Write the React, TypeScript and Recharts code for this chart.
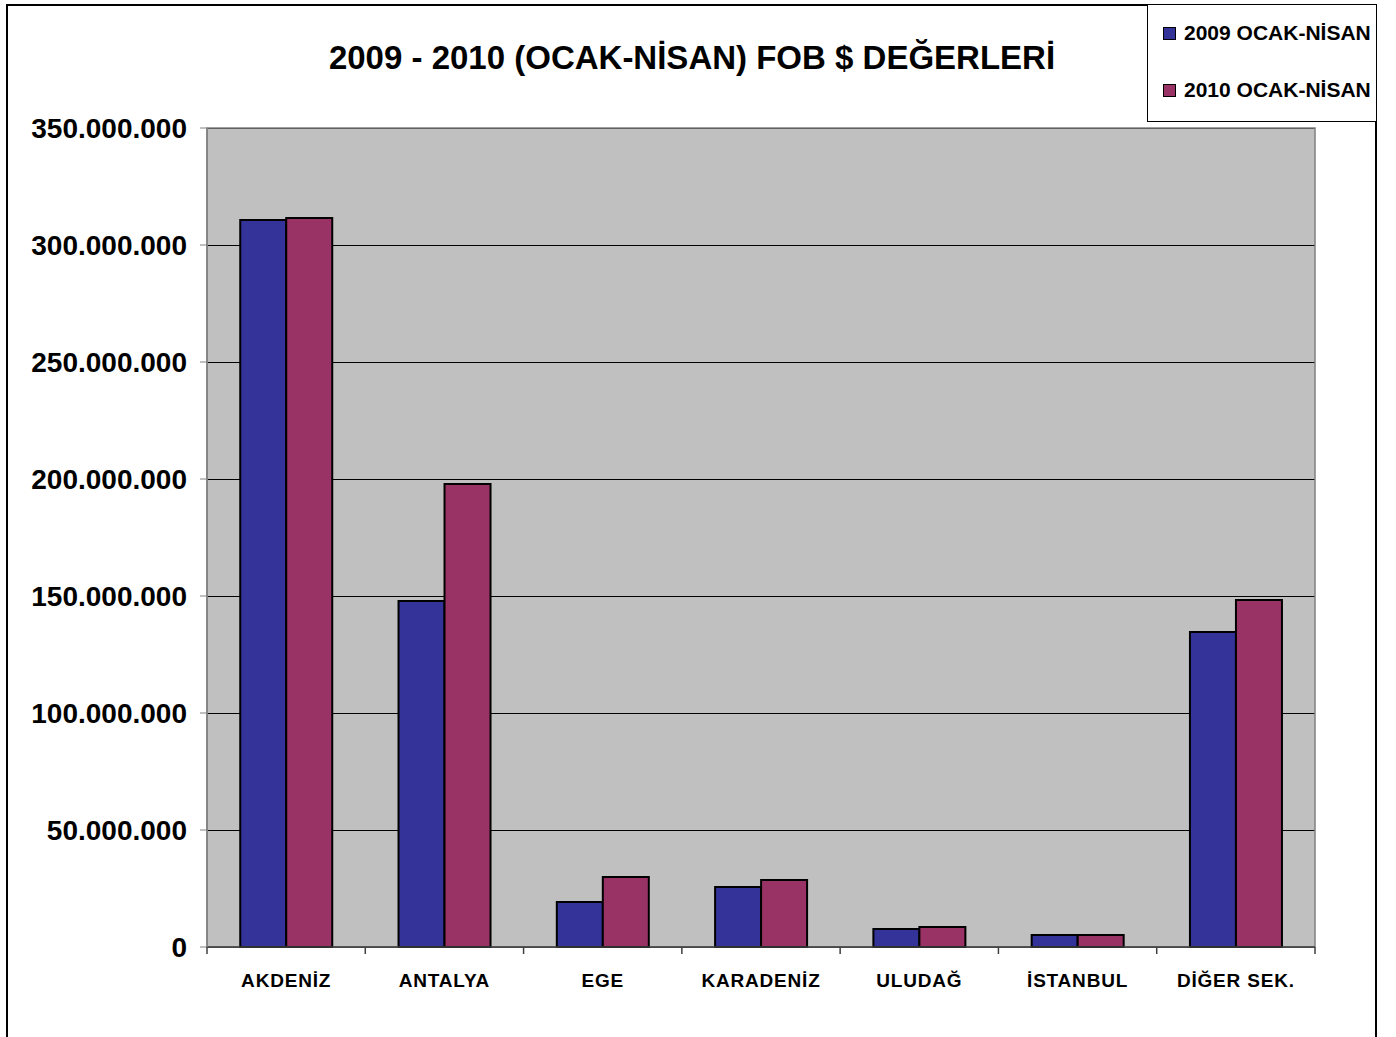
import { BarChart, Bar, XAxis, YAxis, CartesianGrid, ReferenceArea, Legend } from 'recharts';

const categories = ['AKDENİZ', 'ANTALYA', 'EGE', 'KARADENİZ', 'ULUDAĞ', 'İSTANBUL', 'DİĞER SEK.'];
const values2009 = [310700000, 147900000, 19200000, 25600000, 7700000, 5100000, 134600000];
const values2010 = [311500000, 197900000, 29900000, 28600000, 8500000, 5100000, 148300000];
const yTicks = [0, 50000000, 100000000, 150000000, 200000000, 250000000, 300000000, 350000000];
const seriesNames = ['2009 OCAK-NİSAN', '2010 OCAK-NİSAN'];

const data = categories.map((name, i) => ({
  name,
  v2009: values2009[i],
  v2010: values2010[i],
}));

const W = 1396;
const H = 1037;
const M = { top: 128, right: 81, bottom: 30, left: 0 };
const Y_W = 207;
const BAND = (W - M.left - M.right - Y_W) / categories.length;
const FONT = '"Liberation Sans", Arial, sans-serif';

const fmt = (v: number) => String(v).replace(/\B(?=(\d{3})+(?!\d))/g, '.');

function XTick(props: any) {
  const { x, y, payload, index } = props;
  const left = x - BAND / 2;
  return (
    <g>
      <line x1={left} y1={y} x2={left} y2={y + 7} stroke="#404040" strokeWidth={1.5} />
      {index === categories.length - 1 && (
        <line x1={x + BAND / 2} y1={y} x2={x + BAND / 2} y2={y + 7} stroke="#404040" strokeWidth={1.5} />
      )}
      <text
        x={x}
        y={y + 40}
        textAnchor="middle"
        fontFamily={FONT}
        fontWeight={700}
        fontSize={19}
        letterSpacing={0.8}
        fill="#000"
      >
        {payload.value}
      </text>
    </g>
  );
}

function LegendBox() {
  const colors = ['#333399', '#993366'];
  return (
    <div
      style={{
        position: 'absolute',
        left: 1147,
        top: 4,
        width: 230,
        height: 118,
        boxSizing: 'border-box',
        border: '1px solid #000',
        background: '#fff',
        fontFamily: FONT,
        fontWeight: 700,
        fontSize: 21,
      }}
    >
      {seriesNames.map((s, i) => (
        <div
          key={s}
          style={{ position: 'absolute', left: 15, top: 16 + i * 57, display: 'flex', alignItems: 'center', whiteSpace: 'nowrap' }}
        >
          <span style={{ width: 11, height: 11, border: '1px solid #000', background: colors[i], marginRight: 8 }} />
          <span>{s}</span>
        </div>
      ))}
    </div>
  );
}

export default function App() {
  return (
    <div style={{ position: 'absolute', left: 0, top: 0, width: W, height: H, background: '#fff', overflow: 'hidden' }}>
      <div
        style={{
          position: 'absolute',
          left: 6,
          top: 4,
          width: 1371,
          height: H - 4,
          boxSizing: 'border-box',
          border: '2px solid #000',
          borderBottom: 'none',
        }}
      />
      <div
        style={{
          position: 'absolute',
          left: 692 - 400,
          top: 38,
          width: 800,
          textAlign: 'center',
          fontFamily: FONT,
          fontWeight: 700,
          fontSize: 33,
          lineHeight: '40px',
        }}
      >
        2009 - 2010 (OCAK-NİSAN) FOB $ DEĞERLERİ
      </div>
      <div style={{ position: 'absolute', left: 0, top: 0 }}>
        <BarChart width={W} height={H} data={data} margin={M} barCategoryGap="21%" barGap={0}>
          <CartesianGrid fill="#C0C0C0" stroke="#000" strokeOpacity={1} vertical={false} shapeRendering="crispEdges" />
          <ReferenceArea y1={0} y2={350000000} fill="none" stroke="#808080" strokeWidth={1.5} />
          <XAxis
            dataKey="name"
            height={60}
            tickLine={false}
            tickSize={0}
            tickMargin={0}
            axisLine={{ stroke: '#404040', strokeWidth: 1.5 }}
            tick={<XTick />}
            interval={0}
          />
          <YAxis
            width={Y_W}
            domain={[0, 350000000]}
            ticks={yTicks}
            tickFormatter={fmt}
            tickSize={7}
            tickMargin={13}
            axisLine={{ stroke: '#808080', strokeWidth: 1.5 }}
            tickLine={{ stroke: '#808080' }}
            tick={{ fontFamily: FONT, fontWeight: 700, fontSize: 28, fill: '#000' }}
          />
          <Legend content={() => null} />
          <Bar dataKey="v2009" name={seriesNames[0]} fill="#333399" stroke="#000" strokeWidth={2} isAnimationActive={false} />
          <Bar dataKey="v2010" name={seriesNames[1]} fill="#993366" stroke="#000" strokeWidth={2} isAnimationActive={false} />
        </BarChart>
      </div>
      <LegendBox />
    </div>
  );
}
